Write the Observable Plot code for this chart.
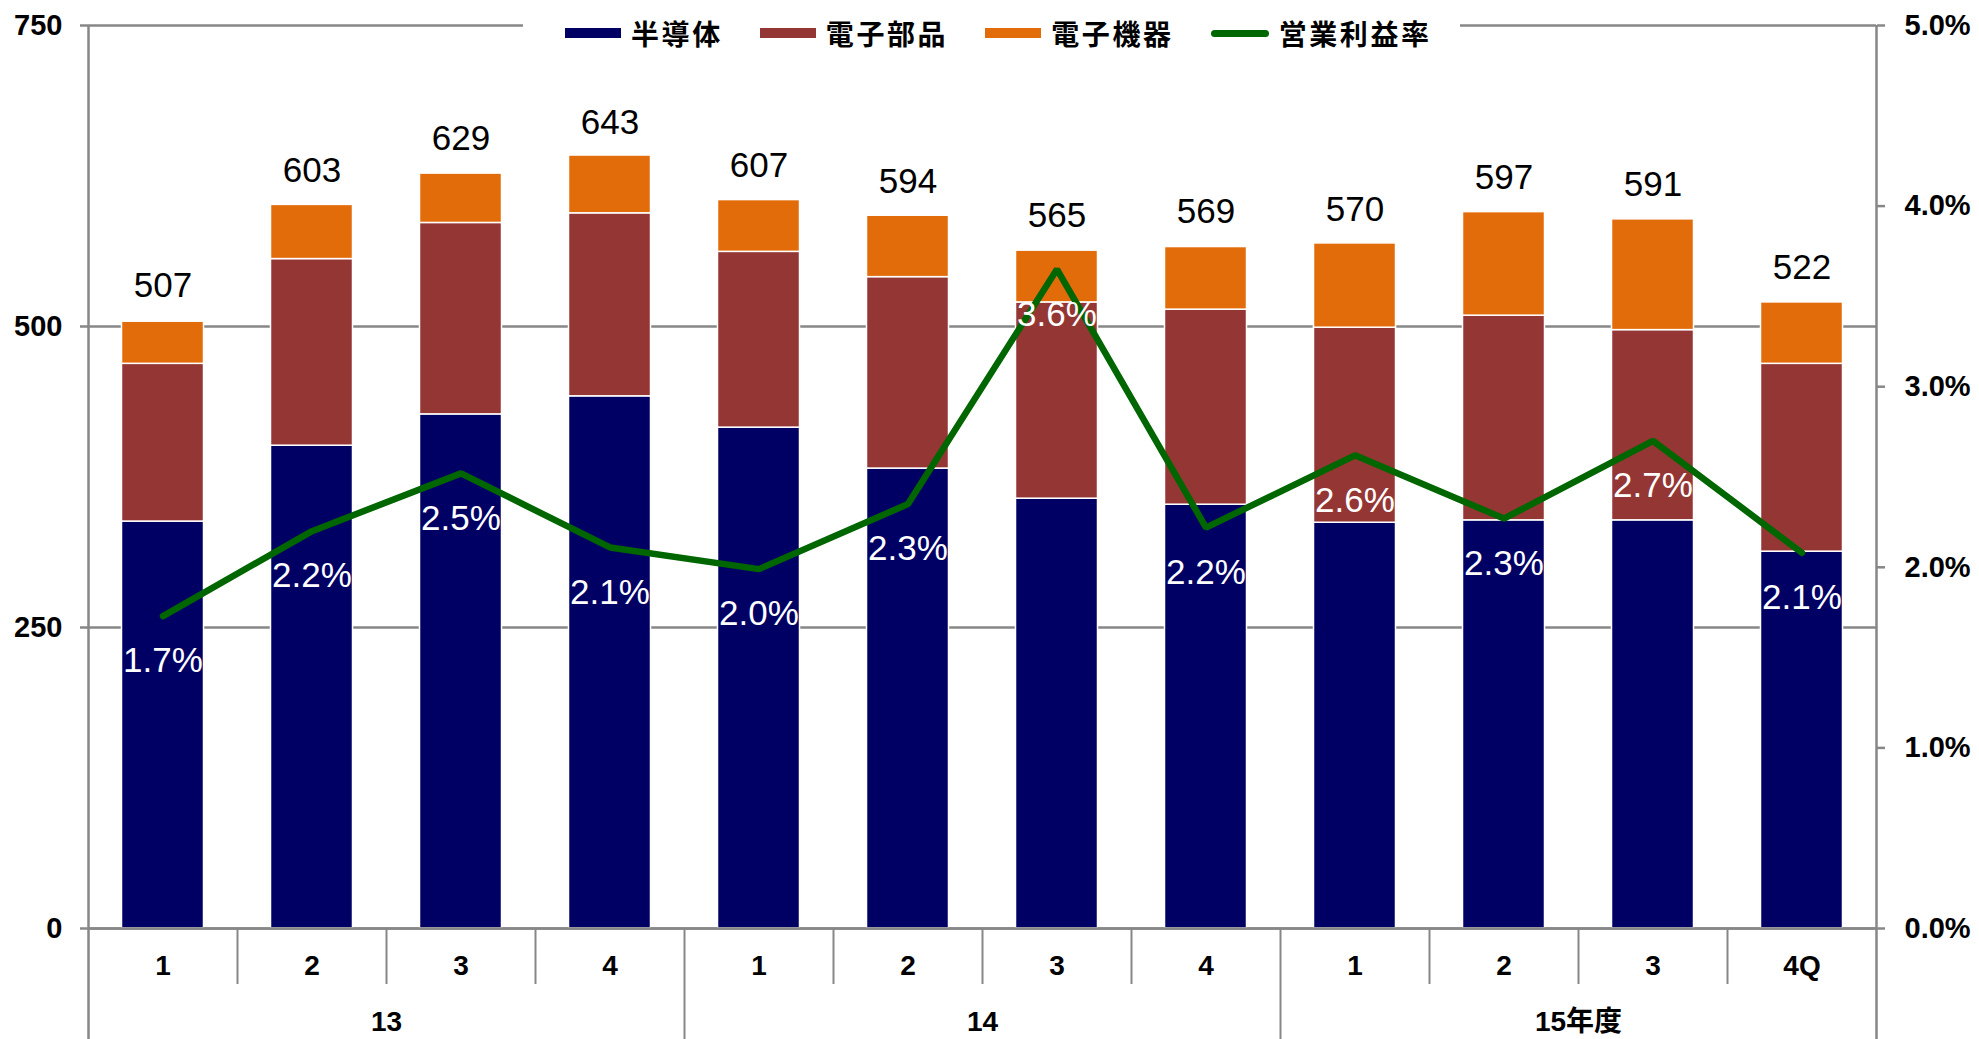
<!DOCTYPE html>
<html>
<head>
<meta charset="utf-8">
<script src="https://cdn.jsdelivr.net/npm/d3@7"></script>
<script src="https://cdn.jsdelivr.net/npm/@observablehq/plot@0.6"></script>
<style>
  html, body { margin: 0; padding: 0; background: #fff; }
  #wrap { position: relative; width: 1979px; height: 1039px; overflow: hidden; }
  #legend {
    position: absolute; left: 523px; top: 13px; width: 937px; height: 40px;
    background: #fff; display: flex; align-items: center;
    font-family: "Noto Sans CJK JP", sans-serif; font-weight: 700; font-size: 28px;
    letter-spacing: 2.6px; color: #000;
  }
  #legend .item { display: flex; align-items: center; margin-left: 37px; }
  #legend .item:first-child { margin-left: 42px; }
  #legend .sw { display: inline-block; width: 56px; height: 10px; margin-right: 10px; }
  #legend .ln { display: inline-block; width: 58px; height: 7px; border-radius: 4px; margin-right: 10px; }
</style>
</head>
<body>
<div id="wrap">
  <div id="chart"></div>
  <div id="legend"></div>
</div>
<script>
// ---- data ----
const years    = ["13","13","13","13","14","14","14","14","15年度","15年度","15年度","15年度"];
const quarters = ["1","2","3","4","1","2","3","4","1","2","3","4Q"];
const seriesNames  = ["半導体", "電子部品", "電子機器"];
const seriesColors = ["#000064", "#943634", "#E36C0A"];
const semiconductors = [338, 401, 427, 442, 416, 382, 357, 352, 337, 339, 339, 313];
const components     = [131, 155, 159, 152, 146, 159, 163, 162, 162, 170, 158, 156];
const equipment      = [35, 45, 41, 48, 43, 51, 43, 52, 70, 86, 92, 51];
const totals         = [507, 603, 629, 643, 607, 594, 565, 569, 570, 597, 591, 522];
const lineName   = "営業利益率";
const lineColor  = "#006600";
const opMargin   = [1.73, 2.20, 2.52, 2.11, 1.99, 2.35, 3.65, 2.22, 2.62, 2.27, 2.70, 2.08];
const opMarginLabels = ["1.7%","2.2%","2.5%","2.1%","2.0%","2.3%","3.6%","2.2%","2.6%","2.3%","2.7%","2.1%"];
const leftTicks  = [0, 250, 500, 750];
const rightTicks = [0, 1, 2, 3, 4, 5];

// ---- derived tables ----
const keys = years.map((y, i) => y + "-" + i);
const seriesValues = [semiconductors, components, equipment];
const rows = [];
seriesNames.forEach((s, si) => keys.forEach((k, i) => rows.push({key: k, series: s, value: seriesValues[si][i]})));
const points = keys.map((k, i) => ({key: k, pct: opMargin[i], label: opMarginLabels[i], total: totals[i], q: quarters[i]}));

const W = 1979, H = 1039, mL = 88, mR = 103, mT = 25, mB = 111;
const bw = (W - mL - mR) / keys.length;
const frameH = H - mT - mB;
const leftMax = leftTicks[leftTicks.length - 1];
const pctToLeft = leftMax / rightTicks[rightTicks.length - 1];
const gray = "#878787";
const font = "'Liberation Sans', Arial, 'Noto Sans CJK JP', sans-serif";

const quarterSepKeys = keys.filter((k, i) => i > 0 && years[i] === years[i - 1]);
const yearSepKeys = keys.filter((k, i) => i > 0 && years[i] !== years[i - 1]);
const yearGroups = d3.groups(keys.map((k, i) => ({k, y: years[i]})), d => d.y)
  .map(([y, arr]) => ({year: y, key: arr[Math.floor(arr.length / 2)].k, even: arr.length % 2 === 0}));

const chart = Plot.plot({
  width: W, height: H,
  marginLeft: mL, marginRight: mR, marginTop: mT, marginBottom: mB,
  style: {fontFamily: font, background: "white", overflow: "visible"},
  x: {type: "band", domain: keys, padding: 0, axis: null},
  y: {domain: [0, leftMax], axis: null},
  color: {domain: seriesNames, range: seriesColors},
  marks: [
    Plot.ruleY(leftTicks, {stroke: gray, strokeWidth: 2.5}),
    Plot.barY(rows, {x: "key", y: "value", fill: "series", order: seriesNames,
      insetLeft: 33.5, insetRight: 33.5, stroke: "white", strokeWidth: 1.5}),
    // frame sides extended down through the category axis
    Plot.ruleX([keys[0]], {dx: -bw / 2, insetBottom: -mB, stroke: gray, strokeWidth: 2.5}),
    Plot.ruleX([keys[keys.length - 1]], {dx: bw / 2, insetBottom: -mB, stroke: gray, strokeWidth: 2.5}),
    Plot.ruleX(quarterSepKeys, {dx: -bw / 2, insetTop: frameH, insetBottom: -56, stroke: gray, strokeWidth: 2}),
    Plot.ruleX(yearSepKeys, {dx: -bw / 2, insetTop: frameH, insetBottom: -mB, stroke: gray, strokeWidth: 2}),
    Plot.ruleY([0], {stroke: gray, strokeWidth: 2.5}),
    Plot.axisY(leftTicks, {anchor: "left", tickSize: 8, tickPadding: 18, stroke: gray, strokeWidth: 2.5,
      fill: "black", fontSize: 29, fontWeight: "bold", fontFamily: font}),
    Plot.axisY(rightTicks.map(d => d * pctToLeft), {anchor: "right", tickSize: 8, tickPadding: 20,
      tickFormat: d => (d / pctToLeft).toFixed(1) + "%", stroke: gray, strokeWidth: 2.5,
      fill: "black", fontSize: 29, fontWeight: "bold", fontFamily: font}),
    Plot.line(points, {x: "key", y: d => d.pct * pctToLeft, stroke: lineColor, strokeWidth: 6.5, strokeLinejoin: "miter"}),
    Plot.text(points, {x: "key", y: "total", text: d => String(d.total), dy: -32, lineAnchor: "middle",
      fill: "black", fontSize: 35, fontFamily: font}),
    Plot.text(points, {x: "key", y: d => d.pct * pctToLeft, text: "label", dy: 45, lineAnchor: "middle",
      fill: "white", fontSize: 35, fontFamily: font}),
    Plot.text(points, {x: "key", text: "q", frameAnchor: "bottom", dy: 38, lineAnchor: "middle",
      fill: "black", fontSize: 28, fontWeight: "bold", fontFamily: font}),
    Plot.text(yearGroups, {x: "key", text: "year", dx: -bw / 2, frameAnchor: "bottom", dy: 94, lineAnchor: "middle",
      fill: "black", fontSize: 28, fontWeight: "bold", fontFamily: font})
  ]
});
document.getElementById("chart").appendChild(chart);

// ---- legend ----
const legend = document.getElementById("legend");
seriesNames.forEach((s, i) => {
  const it = document.createElement("div");
  it.className = "item";
  const sw = document.createElement("span");
  sw.className = "sw"; sw.style.background = seriesColors[i];
  const t = document.createElement("span"); t.textContent = s;
  it.appendChild(sw); it.appendChild(t); legend.appendChild(it);
});
{
  const it = document.createElement("div");
  it.className = "item";
  const ln = document.createElement("span");
  ln.className = "ln"; ln.style.background = lineColor;
  const t = document.createElement("span"); t.textContent = lineName;
  it.appendChild(ln); it.appendChild(t); legend.appendChild(it);
}
</script>
</body>
</html>
